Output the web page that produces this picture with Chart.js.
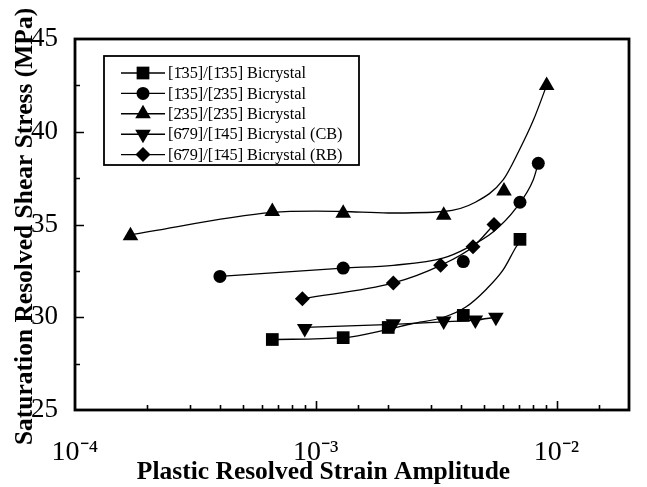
<!DOCTYPE html>
<html><head><meta charset="utf-8">
<script src="https://cdn.jsdelivr.net/npm/chart.js@4.4.1/dist/chart.umd.min.js"></script>
<style>html,body{margin:0;padding:0;background:#fff}</style>
</head><body>
<canvas id="c" width="647" height="487"></canvas>
<script>
// ---- data ----
const seriesLabels = [
  '[1\u030435]/[1\u030435] Bicrystal',
  '[1\u030435]/[2\u030435] Bicrystal',
  '[2\u030435]/[2\u030435] Bicrystal',
  '[6\u030479]/[1\u030445] Bicrystal (CB)',
  '[6\u030479]/[1\u030445] Bicrystal (RB)'
];
const seriesStyles = ['rect', 'circle', 'triangle', 'triangleDown', 'rectRot'];
const xTitle = 'Plastic Resolved Strain Amplitude';
const yTitle = 'Saturation Resolved Shear Stress (MPa)';

// measured points (plastic resolved strain amplitude, saturation RSS in MPa)
const sqX = [6.6e-4, 1.3e-3, 2.0e-3, 4.1e-3, 7.05e-3];
const sqY = [28.8, 28.9, 29.45, 30.1, 34.2];
const ciX = [4.0e-4, 1.3e-3, 4.1e-3, 7.05e-3, 8.4e-3];
const ciY = [32.2, 32.65, 33.0, 36.2, 38.3];
const trX = [1.7e-4, 6.6e-4, 1.3e-3, 3.4e-3, 6.05e-3, 9.1e-3];
const trY = [34.4, 35.7, 35.6, 35.5, 36.8, 42.5];
const tdX = [9.0e-4, 2.1e-3, 3.4e-3, 4.6e-3, 5.6e-3];
const tdY = [29.4, 29.65, 29.8, 29.85, 30.0];
const diX = [8.8e-4, 2.1e-3, 3.3e-3, 4.5e-3, 5.5e-3];
const diY = [31.0, 31.85, 32.8, 33.8, 35.0];

// fitted curves
const sqFitX = [6.6e-4, 1.3e-3, 2.0e-3, 2.5e-3, 3.4e-3, 4.2e-3, 5.1e-3, 6.0e-3, 6.8e-3, 7.05e-3];
const sqFitY = [28.8, 28.9, 29.35, 29.65, 30.0, 30.55, 31.5, 32.55, 33.8, 34.1];
const ciFitX = [4.0e-4, 1.3e-3, 2.1e-3, 3.4e-3, 4.2e-3, 5.45e-3, 6.8e-3, 8.0e-3, 8.4e-3];
const ciFitY = [32.2, 32.65, 32.8, 33.2, 33.7, 34.6, 35.9, 37.4, 38.3];
const trFitX = [1.7e-4, 6.6e-4, 1.0e-3, 1.3e-3, 2.0e-3, 3.4e-3, 4.6e-3, 6.0e-3, 7.0e-3, 8.0e-3, 9.1e-3];
const trFitY = [34.45, 35.65, 35.72, 35.7, 35.62, 35.7, 36.2, 37.4, 39.0, 40.6, 42.5];
const tdFitX = [9.0e-4, 2.1e-3, 3.4e-3, 4.6e-3, 5.6e-3];
const tdFitY = [29.45, 29.62, 29.75, 29.85, 30.0];
const diFitX = [8.8e-4, 2.1e-3, 3.3e-3, 4.5e-3, 5.5e-3];
const diFitY = [31.0, 31.85, 32.8, 33.8, 35.0];

const xTickPowers = [-4, -3, -2];
const yTickLabels = [25, 30, 35, 40, 45];

// ---- chart ----
const pts = (xs, ys) => xs.map((x, i) => ({x, y: ys[i]}));
const markerRadius = {rect: 9, circle: 6.5, triangle: 9, triangleDown: 9, rectRot: 7.5};
const styleOf = s => s === 'triangleDown' ? 'triangle' : s;
const rotOf = s => s === 'triangleDown' ? 180 : 0;

const fits = [[sqFitX, sqFitY], [ciFitX, ciFitY], [trFitX, trFitY], [tdFitX, tdFitY], [diFitX, diFitY]];
const marks = [[sqX, sqY], [ciX, ciY], [trX, trY], [tdX, tdY], [diX, diY]];

const datasets = [];
fits.forEach((f, i) => datasets.push({
  label: seriesLabels[i] + ' fit', data: pts(f[0], f[1]), showLine: true,
  borderColor: '#000', borderWidth: 1.3, pointRadius: 0,
  cubicInterpolationMode: 'monotone', fill: false, order: 2
}));
marks.forEach((m, i) => datasets.push({
  label: seriesLabels[i], data: pts(m[0], m[1]), showLine: false,
  pointStyle: styleOf(seriesStyles[i]), rotation: rotOf(seriesStyles[i]),
  pointRadius: markerRadius[seriesStyles[i]], pointBackgroundColor: '#000',
  pointBorderColor: '#000', pointBorderWidth: 0, order: 1
}));

const SUP = {'-': '\u207B', '0': '\u2070', '1': '\u00B9', '2': '\u00B2', '3': '\u00B3', '4': '\u2074'};
const sup = s => String(s).split('').map(c => SUP[c] || c).join('');
const TITLE_FONT = 'bold 25.5px "Liberation Serif", serif';

const framePlugin = {
  id: 'frameTicks',
  afterDatasetsDraw(chart) {
    const {ctx, chartArea: a, scales: {x, y}} = chart;
    ctx.save();
    ctx.strokeStyle = '#000';
    ctx.lineWidth = 1.6;
    ctx.beginPath();
    x.ticks.forEach(t => {
      const lg = Math.log10(t.value);
      const major = Math.abs(lg - Math.round(lg)) < 1e-6;
      const px = Math.round(x.getPixelForValue(t.value)) + 0.5;
      if (px <= a.left + 1 || px >= a.right - 1) return;
      ctx.moveTo(px, a.bottom);
      ctx.lineTo(px, a.bottom - (major ? 9 : 5));
    });
    y.ticks.forEach(t => {
      const major = t.value % 5 === 0;
      const py = Math.round(y.getPixelForValue(t.value)) + 0.5;
      if (py <= a.top + 1 || py >= a.bottom - 1) return;
      ctx.moveTo(a.left, py);
      ctx.lineTo(a.left + (major ? 9 : 5), py);
    });
    ctx.stroke();
    ctx.lineWidth = 2.8;
    ctx.strokeRect(a.left, a.top, a.right - a.left, a.bottom - a.top);
    ctx.restore();
  },
  afterDraw(chart) {
    const {ctx, chartArea: a} = chart;
    ctx.save();
    // axis titles
    ctx.fillStyle = '#000';
    ctx.font = TITLE_FONT;
    ctx.textAlign = 'center';
    ctx.textBaseline = 'middle';
    ctx.fillText(xTitle, chart.width / 2, 472);
    ctx.save();
    ctx.translate(25, (a.top + a.bottom) / 2 + 2);
    ctx.rotate(-Math.PI / 2);
    ctx.fillText(yTitle, 0, 0);
    ctx.restore();
    // legend box
    const bx = 104, by = 56, bw = 255, bh = 109;
    ctx.strokeStyle = '#000';
    ctx.lineWidth = 1.8;
    ctx.fillStyle = '#fff';
    ctx.fillRect(bx, by, bw, bh);
    ctx.strokeRect(bx, by, bw, bh);
    seriesLabels.forEach((lab, i) => {
      const yy = 73 + i * 20.4;
      ctx.lineWidth = 1.4;
      ctx.beginPath();
      ctx.moveTo(121, yy); ctx.lineTo(165, yy);
      ctx.stroke();
      ctx.fillStyle = '#000';
      const st = seriesStyles[i];
      Chart.helpers.drawPoint(ctx, {pointStyle: styleOf(st), rotation: rotOf(st),
        radius: markerRadius[st], borderWidth: 0}, 143, yy);
      ctx.font = '16.3px "Liberation Serif", "DejaVu Serif", serif';
      ctx.textBaseline = 'middle';
      ctx.textAlign = 'left';
      ctx.fillText(lab, 168, yy + 1);
    });
    ctx.restore();
  }
};

new Chart(document.getElementById('c'), {
  type: 'scatter',
  data: {datasets},
  options: {
    responsive: false, animation: false, devicePixelRatio: 1,
    layout: {padding: {top: 39, right: 10, left: 0, bottom: 0}},
    plugins: {legend: {display: false}, tooltip: {enabled: false}},
    scales: {
      x: {
        type: 'logarithmic', min: 1e-4, max: 2e-2,
        grid: {display: false}, border: {display: false},
        afterFit: s => { s.height = 77; },
        ticks: {
          autoSkip: false, maxRotation: 0, color: '#000', padding: 18,
          font: {family: '"Liberation Serif"', size: 28},
          callback: v => {
            const lg = Math.log10(v);
            const r = Math.round(lg);
            return (Math.abs(lg - r) < 1e-6 && xTickPowers.includes(r)) ? '10' + sup(r) : '';
          }
        },
        title: {display: false}
      },
      y: {
        type: 'linear', min: 25, max: 45,
        grid: {display: false}, border: {display: false},
        afterFit: s => { s.width = 75; },
        ticks: {
          stepSize: 2.5, color: '#000', padding: 9,
          font: {family: '"Liberation Serif"', size: 27},
          callback: v => yTickLabels.includes(v) ? String(v) : ''
        },
        title: {display: false}
      }
    }
  },
  plugins: [framePlugin]
});
</script>
</body></html>
